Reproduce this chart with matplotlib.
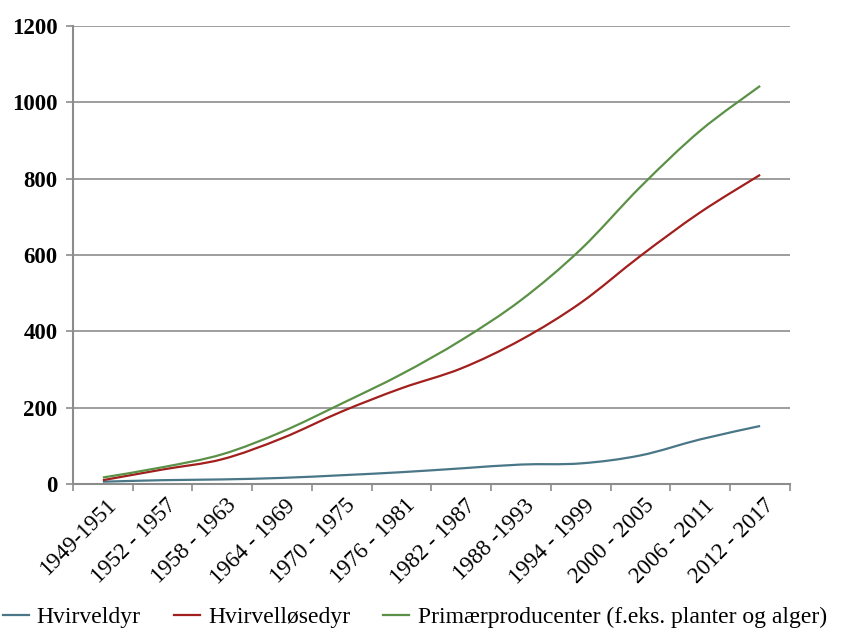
import numpy as np
import matplotlib
matplotlib.use("Agg")
from matplotlib import pyplot as plt
from matplotlib.path import Path
from matplotlib.patches import PathPatch
from matplotlib.lines import Line2D
import matplotlib.transforms as mtransforms

# ============ data ====================
periods = ['1949-1951', '1952 - 1957', '1958 - 1963', '1964 - 1969', '1970 - 1975',
           '1976 - 1981', '1982 - 1987', '1988 -1993', '1994 - 1999', '2000 - 2005',
           '2006 - 2011', '2012 - 2017']
hvirveldyr = [6, 10, 12, 16, 23, 31, 41, 51, 54, 75, 117, 152]
hvirvelloesedyr = [10, 38, 65, 120, 190, 251, 303, 378, 475, 598, 712, 810]
primaer = [17, 44, 78, 137, 211, 288, 377, 482, 615, 779, 926, 1043]

series_names = ['Hvirveldyr', 'Hvirvelløsedyr', 'Primærproducenter (f.eks. planter og alger)']
series_colors = ['#4a7787', '#a11f1d', '#5b9146']
y_ticks = [0, 200, 400, 600, 800, 1000, 1200]
# ======================================

plt.rcParams['font.family'] = ['Liberation Serif', 'DejaVu Serif']
GRID = '#8c8c8c'


def smooth_path(xs, ys):
    # excel style smoothed line: catmull-rom turned into cubic bezier segments
    pts = np.column_stack([xs, ys]).astype(float)
    n = len(pts)
    verts = [pts[0]]
    codes = [Path.MOVETO]
    for i in range(n - 1):
        p0 = pts[i - 1] if i > 0 else pts[i]
        p1 = pts[i]
        p2 = pts[i + 1]
        p3 = pts[i + 2] if i + 2 < n else pts[i + 1]
        c1 = p1 + (p2 - p0) / 6.0
        c2 = p2 - (p3 - p1) / 6.0
        verts += [c1, c2, p2]
        codes += [Path.CURVE4] * 3
    return Path(verts, codes)


fig = plt.figure(figsize=(8.41, 6.37), dpi=100)
ax = fig.add_axes([73 / 841, 1 - 484 / 637, 717 / 841, 458 / 637])

x = np.arange(len(periods))
for vals, col in zip([hvirveldyr, hvirvelloesedyr, primaer], series_colors):
    patch = PathPatch(smooth_path(x, vals), facecolor='none', edgecolor=col,
                      lw=1.6, capstyle='butt', zorder=3)
    ax.add_patch(patch)

ax.set_xlim(-0.5, len(periods) - 0.5)
ax.set_ylim(0, 1200)

ax.set_yticks(y_ticks)
ax.set_yticklabels([str(t) for t in y_ticks], fontsize=16.5, fontweight='bold')
ax.yaxis.grid(True, color=GRID, lw=1.2)
ax.set_axisbelow(True)

ax.set_xticks(x)
ax.set_xticklabels(periods, fontsize=16.5, rotation=45, ha='right', va='top',
                   rotation_mode='anchor')
ax.set_xticks(np.arange(len(periods) + 1) - 0.5, minor=True)
ax.tick_params(axis='x', which='major', length=0, pad=8)
ax.tick_params(axis='x', which='minor', length=5, width=1.2, color=GRID)
ax.tick_params(axis='y', length=5, width=1.2, color=GRID, pad=6)

# shift x labels a bit to the right so their ends sit under the points
offset = mtransforms.ScaledTranslation(3 / 100, 0, fig.dpi_scale_trans)
for lbl in ax.get_xticklabels():
    lbl.set_transform(lbl.get_transform() + offset)

for side in ['top', 'right']:
    ax.spines[side].set_visible(False)
for side in ['left', 'bottom']:
    ax.spines[side].set_color(GRID)
    ax.spines[side].set_linewidth(1.5)

handles = [Line2D([0], [0], color=c, lw=1.6) for c in series_colors]
fig.legend(handles, series_names, loc='center', bbox_to_anchor=(0.493, 1 - 617 / 637),
           ncol=3, frameon=False, fontsize=17, handlelength=1.1, handletextpad=0.35,
           columnspacing=1.4, borderaxespad=0)

plt.savefig('out.png', dpi=100)
